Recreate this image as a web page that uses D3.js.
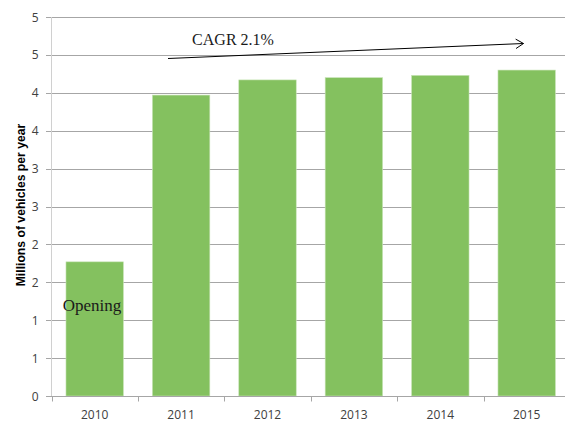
<!DOCTYPE html>
<html><head><meta charset="utf-8">
<script src="https://cdn.jsdelivr.net/npm/d3@7"></script>
<style>body{margin:0;background:#fff;} svg{display:block;}</style>
</head><body>
<svg id="c" width="565" height="422"></svg>
<script>
const categories = ["2010","2011","2012","2013","2014","2015"];
const values = [1.77, 3.97, 4.17, 4.20, 4.23, 4.30];
const yTicks = [0,0.5,1,1.5,2,2.5,3,3.5,4,4.5,5];
const yTitle = "Millions of vehicles per year";
const cagrLabel = "CAGR 2.1%";
const openingLabel = "Opening";

const svg = d3.select("#c");
const m = {left:51.5};
const W = 6*86.4;
const x = d3.scaleBand().domain(categories).range([m.left, m.left+W]).paddingInner(0.335).paddingOuter(0.1675);
const y = d3.scaleLinear().domain([0,5]).range([396, 17]);
const step = x.step();

// gridlines
svg.append("g").selectAll("line").data(yTicks).join("line")
  .attr("x1", m.left-5.5).attr("x2", 565)
  .attr("y1", d=>Math.round(y(d))+0.5).attr("y2", d=>Math.round(y(d))+0.5)
  .attr("stroke", "#a6a6a6").attr("stroke-width",1);

// y axis line
svg.append("line").attr("x1", m.left).attr("x2", m.left).attr("y1", y(5)).attr("y2", y(0))
  .attr("stroke","#d0d0d0");

// bars
svg.append("g").selectAll("rect").data(values).join("rect")
  .attr("x",(d,i)=>x(categories[i])).attr("width", x.bandwidth())
  .attr("y", d=>y(d)).attr("height", d=>y(0)-y(d))
  .attr("fill","#84c15f").attr("stroke","#c9e4b8").attr("stroke-width",0.6);

// x axis
const gx = svg.append("g").attr("transform",`translate(0,${Math.round(y(0))+0.5})`);
gx.append("line").attr("x1", m.left).attr("x2", 565).attr("stroke","#a6a6a6");
gx.selectAll("line.t").data(d3.range(0,7)).join("line").attr("class","t")
  .attr("x1", i=>Math.round(m.left + i*step)+0.5).attr("x2", i=>Math.round(m.left + i*step)+0.5)
  .attr("y1",0).attr("y2",5).attr("stroke","#a6a6a6");
gx.selectAll("text").data(categories).join("text")
  .attr("x", d=>x(d)+x.bandwidth()/2).attr("y", 22.5)
  .attr("text-anchor","middle").attr("font-family","'Open Sans', 'Liberation Sans', sans-serif")
  .attr("font-size","12px").attr("fill","#404040").text(d=>d);

// y tick labels
svg.append("g").selectAll("text").data(yTicks).join("text")
  .attr("x", 38.5).attr("y", d=>y(d)+4.5).attr("text-anchor","end")
  .attr("font-family","'Open Sans', 'Liberation Sans', sans-serif")
  .attr("font-size","12px").attr("fill","#404040").text(d=>d3.format(".0f")(Math.round(d+0.001)));

// y title
svg.append("text").attr("transform",`translate(24.5,205) rotate(-90)`)
  .attr("text-anchor","middle").attr("font-family","'Liberation Sans', Arial, sans-serif")
  .attr("font-weight","bold").attr("font-size","12.2px").attr("fill","#000").text(yTitle);

// arrow
const x1 = 168, y1 = 58.5, x2 = 523.5, y2 = 43.5;
svg.append("line").attr("x1",x1).attr("y1",y1).attr("x2",x2).attr("y2",y2)
  .attr("stroke","#000").attr("stroke-width",1);
const ang = Math.atan2(y2-y1, x2-x1);
const hl = 9, hw = 0.55;
svg.append("path").attr("d", `M${x2-hl*Math.cos(ang-hw)},${y2-hl*Math.sin(ang-hw)} L${x2},${y2} L${x2-hl*Math.cos(ang+hw)},${y2-hl*Math.sin(ang+hw)}`)
  .attr("fill","none").attr("stroke","#000").attr("stroke-width",1);

svg.append("text").attr("x",233).attr("y",45).attr("text-anchor","middle")
  .attr("font-family","'Liberation Serif','Times New Roman',serif").attr("font-size","16px")
  .attr("fill","#1a1a1a").text(cagrLabel);

svg.append("text").attr("x",92).attr("y",311).attr("text-anchor","middle")
  .attr("font-family","'Liberation Serif','Times New Roman',serif").attr("font-size","17px")
  .attr("fill","#1a1a1a").text(openingLabel);
</script>
</body></html>
